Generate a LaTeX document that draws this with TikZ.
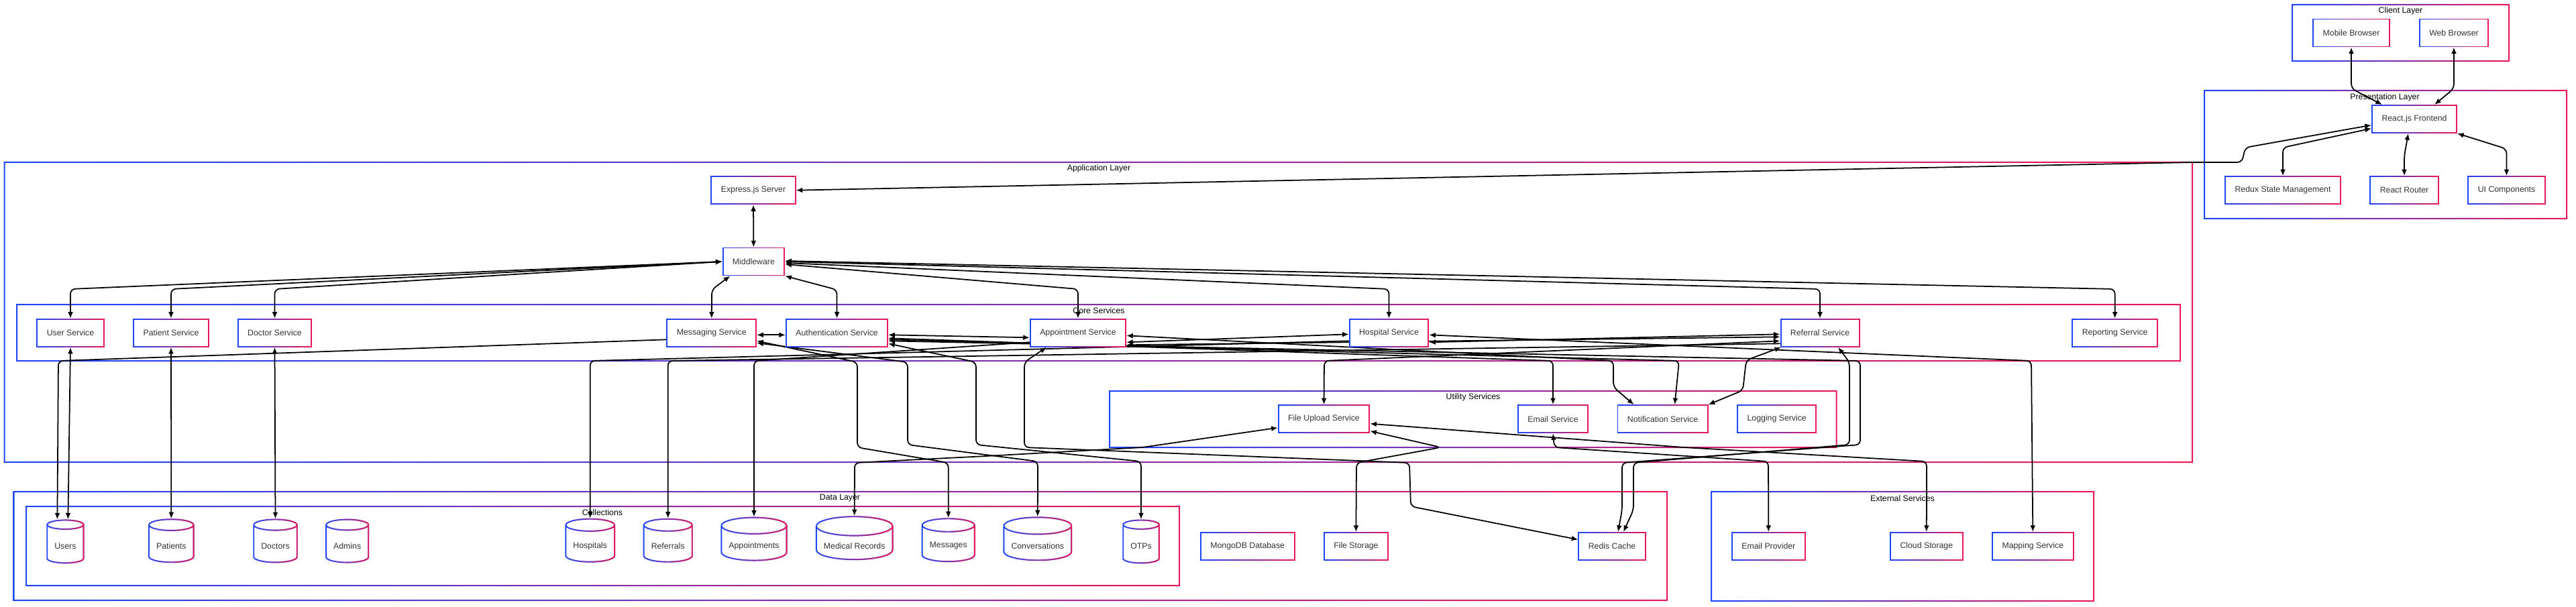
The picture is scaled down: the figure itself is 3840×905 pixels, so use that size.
\documentclass[tikz,border=0pt]{standalone}
\usepackage{fontspec}
\setmainfont{Liberation Sans}
\usetikzlibrary{arrows.meta,shapes.geometric,fadings}
\definecolor{gradblue}{RGB}{30,70,250}
\definecolor{gradred}{RGB}{235,25,85}
\definecolor{ink}{RGB}{51,51,51}
\pgfdeclarelayer{frames}
\pgfdeclarelayer{links}
\pgfsetlayers{frames,links,main}
\tikzset{
  grad/.style={draw=gradblue,line width=1.1pt,postaction={draw=gradred,line width=1.1pt,path fading=west}},
  frame/.style={left color=gradblue,right color=gradred,even odd rule},
  svc/.style={grad,fill=white,text=ink,font=\fontsize{7}{8}\selectfont,inner xsep=8.2pt,minimum height=.82cm},
  db/.style={svc,cylinder,shape border rotate=90,aspect=.25,inner xsep=6.3pt,minimum height=1.28cm},
  title/.style={font=\fontsize{7}{8}\selectfont},
  link/.style={line width=1pt,rounded corners=4pt},
  both/.style={link,{Latex[length=5.5pt,width=4.5pt]}-{Latex[length=5.5pt,width=4.5pt]}},
  one/.style={link,-{Latex[length=5.5pt,width=4.5pt]}}
}
\begin{document}
\begin{tikzpicture}[x=.02cm,y=-.02cm]
\useasboundingbox (0,0) rectangle (3840,905);
\begin{pgfonlayer}{frames}
\shade[frame](3416,6)rectangle(3741,92)(3418,8)rectangle(3739,90);
\shade[frame](3285,134)rectangle(3827,327)(3287,136)rectangle(3825,325);
\shade[frame](5.6,241)rectangle(3269,690)(7.6,243)rectangle(3267,688);
\shade[frame](24,453)rectangle(3251,539)(26,455)rectangle(3249,537);
\shade[frame](1653,582)rectangle(2738.5,668)(1655,584)rectangle(2736.5,666);
\shade[frame](19.7,732)rectangle(2486,896)(21.7,734)rectangle(2484,894);
\shade[frame](38,754)rectangle(1759,874)(40,756)rectangle(1757,872);
\shade[frame](2550,732)rectangle(3122,897)(2552,734)rectangle(3120,895);
\end{pgfonlayer}
\node[title](clientlbl) at (3578.5,16){Client Layer};
\node[title](presentlbl) at (3555,145){Presentation Layer};
\node[title](applbl) at (1638,251){Application Layer};
\node[title](corelbl) at (1638,463){Core Services};
\node[title](utillbl) at (2196,592){Utility Services};
\node[title](datalbl) at (1252,743){Data Layer};
\node[title](colllbl) at (898,764){Collections};
\node[title](extlbl) at (2836,743){External Services};
\node[svc](mobile) at (3505,49){Mobile Browser};
\node[svc](web) at (3658,49){Web Browser};
\node[svc](react) at (3599,177.5){React.js Frontend};
\node[svc](redux) at (3403,283.7){Redux State Management};
\node[svc](router) at (3584,283.7){React Router};
\node[svc](uicomp) at (3736.5,283.7){UI Components};
\node[svc](express) at (1123,283.7){Express.js Server};
\node[svc](middleware) at (1123.4,390){Middleware};
\node[svc](usersvc) at (105,496.3){User Service};
\node[svc](patientsvc) at (255,496.3){Patient Service};
\node[svc](doctorsvc) at (409.5,496.3){Doctor Service};
\node[svc](msgsvc) at (1060.8,496.3){Messaging Service};
\node[svc](authsvc) at (1247.6,496.3){Authentication Service};
\node[svc](apptsvc) at (1607,496.3){Appointment Service};
\node[svc](hospsvc) at (2070.5,496.3){Hospital Service};
\node[svc](refsvc) at (2713,496.3){Referral Service};
\node[svc](reportsvc) at (3152.6,496.3){Reporting Service};
\node[svc](upload) at (1973.5,624.7){File Upload Service};
\node[svc](emailsvc) at (2315,624.7){Email Service};
\node[svc](notify) at (2478.5,624.7){Notification Service};
\node[svc](logging) at (2648.7,624.7){Logging Service};
\node[db](users) at (97.4,814){Users};
\node[db](patients) at (255.3,814){Patients};
\node[db](doctors) at (410.5,814){Doctors};
\node[db](admins) at (517.7,814){Admins};
\node[db](hospitals) at (879.7,814){Hospitals};
\node[db](referrals) at (995.7,814){Referrals};
\node[db](appts) at (1124,814){Appointments};
\node[db](records) at (1273.7,814){Medical Records};
\node[db](messages) at (1413.7,814){Messages};
\node[db](convs) at (1546.8,814){Conversations};
\node[db](otps) at (1701,814){OTPs};
\node[svc](mongo) at (1859.7,814.5){MongoDB Database};
\node[svc](filestore) at (2021.4,814.5){File Storage};
\node[svc](redis) at (2403,814.5){Redis Cache};
\node[svc](emailprov) at (2636.3,814.5){Email Provider};
\node[svc](cloud) at (2871.8,814.5){Cloud Storage};
\node[svc](mapping) at (3030.3,814.5){Mapping Service};
\begin{pgfonlayer}{links}
\draw[both](mobile.south)--(3505,132)--([shift={(-48,0)}]react.north);
\draw[both](web.south)--(3658,132)--([shift={(30,0)}]react.north);
\draw[both]([shift={(0,14)}]react.west)--(3403,220)--(redux.north);
\draw[both]([shift={(-9,0)}]react.south)--(3584,232)--(router.north);
\draw[both](react.south east)--(3736.5,222)--(uicomp.north);
\draw[both](express.east)--(3268,242)--(3342,242)--(3347,220)--([shift={(0,9)}]react.west);
\draw[both](express.south)--(middleware.north);
\draw[both](middleware.west)--(105,431)--(usersvc.north);
\draw[both](middleware.west)--(255,431)--(patientsvc.north);
\draw[both](middleware.west)--(409.5,431)--(doctorsvc.north);
\draw[both]([shift={(-35,0)}]middleware.south)--(1061,432)--(msgsvc.north);
\draw[both](middleware.south east)--(1247.6,432)--(authsvc.north);
\draw[both]([shift={(0,4)}]middleware.east)--(1607,431)--(apptsvc.north);
\draw[both]([shift={(0,2)}]middleware.east)--(2070.5,431)--(hospsvc.north);
\draw[both](middleware.east)--(2713,431)--(refsvc.north);
\draw[both]([shift={(0,-1)}]middleware.east)--(3152.6,431)--(reportsvc.north);
\draw[both]([shift={(0,3)}]msgsvc.east)--([shift={(0,3)}]authsvc.west);
\draw[both]([shift={(0,3)}]authsvc.east)--([shift={(0,7)}]apptsvc.west);
\draw[both]([shift={(0,14)}]apptsvc.east)--([shift={(0,2)}]hospsvc.west);
\draw[both]([shift={(0,14)}]hospsvc.east)--([shift={(0,2)}]refsvc.west);
\draw[both]([shift={(0,18)}]apptsvc.east)--([shift={(0,6)}]refsvc.west);
\draw[both]([shift={(0,3)}]hospsvc.east)--(3028,538)--(mapping.north);
\draw[both]([shift={(0,4)}]apptsvc.east)--(2405,538)--(2405,577)--([shift={(-43,0)}]notify.north);
\draw[both]([shift={(0,10)}]authsvc.east)--(2503,538)--([shift={(18,0)}]notify.north);
\draw[both]([shift={(-58,0)}]refsvc.south)--(2603,537)--(2598,582)--(notify.north east);
\draw[both]([shift={(0,8)}]authsvc.east)--(2315,538)--(emailsvc.north);
\draw[both]([shift={(0,12)}]refsvc.west)--(1974,538)--(upload.north);
\draw[both]([shift={(27,0)}]refsvc.south)--(2757,540)--(2757,663)--(2435,690)--(2435,760)--([shift={(17,0)}]redis.north);
\draw[both]([shift={(0,12)}]authsvc.east)--(2773,538)--(2773,663)--(2418,690)--(2418,760)--([shift={(9,0)}]redis.north);
\draw[both]([shift={(-47,0)}]apptsvc.south)--(1527,540)--(1527,667)--(2101,690)--(2103,755)--([shift={(0,-10)}]redis.west);
\draw[both]([shift={(0,13)}]upload.west)--(1703,667)--(1470,680)--(1274,690)--(records.north);
\draw[both]([shift={(0,18)}]upload.east)--(2148,667)--(2022,690)--(filestore.north);
\draw[both]([shift={(0,7)}]upload.east)--(2510,667)--(2872,688)--(cloud.north);
\draw[both](emailsvc.south)--(2317,667)--(2636,688)--(emailprov.north);
\draw[one]([shift={(0,10)}]msgsvc.west)--(87,538)--([shift={(-12,0)}]users.north);
\draw[both](usersvc.south)--([shift={(4,0)}]users.north);
\draw[both](patientsvc.south)--(patients.north);
\draw[both](doctorsvc.south)--(doctors.north);
\draw[one]([shift={(0,12)}]hospsvc.west)--(879.7,538)--(hospitals.north);
\draw[one]([shift={(0,16)}]refsvc.west)--(995.7,538)--(referrals.north);
\draw[one]([shift={(0,14)}]apptsvc.west)--(1124,538)--(appts.north);
\draw[both]([shift={(0,12)}]msgsvc.east)--(1278,540)--(1278,667)--(1413.7,690)--(messages.north);
\draw[both]([shift={(0,15)}]msgsvc.east)--(1353,540)--(1353,663)--(1547,688)--(convs.north);
\draw[both]([shift={(0,16)}]authsvc.east)--(1455,540)--(1455,663)--(1701,688)--(otps.north);
\end{pgfonlayer}
\end{tikzpicture}
\end{document}
